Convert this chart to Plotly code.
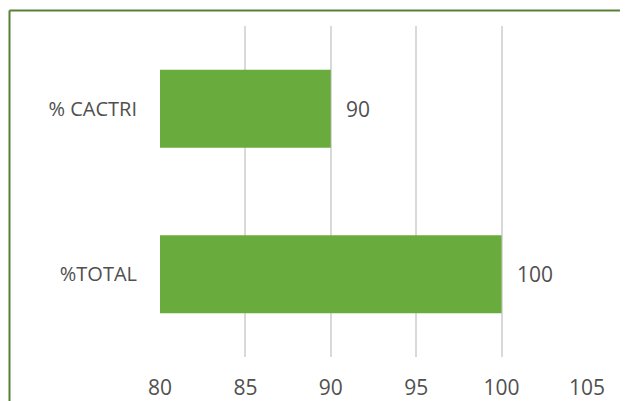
import plotly.graph_objects as go

categories = ["%TOTAL", "% CACTRI"]
values = [100, 90]
x_ticks = [80, 85, 90, 95, 100, 105]

# figure drawn at page offset (8, 8) by default body margin
W, H = 620, 393
ML, MR, MT, MB = 152, 41, 18, 44
pw, ph = W - ML - MR, H - MT - MB

def px_x(p):
    return (p - ML) / pw

def px_y(p):
    return (H - MB - p) / ph

text_col = "#505050"
green = "#548235"
FONT = "Open Sans"

fig = go.Figure()
fig.add_trace(go.Bar(
    x=values, y=categories, orientation="h",
    marker=dict(color="#6aab3e", line=dict(width=0)),
    hoverinfo="skip",
))

annotations = [
    dict(x=v, y=c, xref="x", yref="y", text=str(v), showarrow=False,
         xanchor="left", xshift=13, font=dict(size=21, color=text_col, family=FONT))
    for v, c in zip(values, categories)
]

shapes = [
    dict(type="line", xref="paper", yref="paper",
         x0=px_x(1.5), x1=px_x(W + 20), y0=px_y(2.5), y1=px_y(2.5),
         line=dict(color=green, width=2)),
    dict(type="line", xref="paper", yref="paper",
         x0=px_x(1.5), x1=px_x(1.5), y0=px_y(2.5), y1=px_y(H + 20),
         line=dict(color=green, width=2)),
]

fig.update_layout(
    width=W, height=H,
    margin=dict(l=ML, r=MR, t=MT, b=MB, pad=0, autoexpand=False),
    paper_bgcolor="white", plot_bgcolor="white",
    bargap=0.53,
    showlegend=False,
    annotations=annotations,
    shapes=shapes,
    font=dict(family=FONT, color=text_col),
    xaxis=dict(
        range=[80, 105], tickvals=x_ticks, ticktext=[str(t) for t in x_ticks],
        showgrid=True, gridcolor="#d9d9d9", gridwidth=2,
        zeroline=False, showline=False, ticks="",
        tickfont=dict(size=21, color=text_col), ticklabelstandoff=16,
        fixedrange=True, automargin=False,
    ),
    yaxis=dict(
        showgrid=False, zeroline=False, showline=False, ticks="",
        tickfont=dict(size=20, color=text_col), ticklabelstandoff=22,
        fixedrange=True, automargin=False,
    ),
)

fig.write_html("out.html", config={"displayModeBar": False})
